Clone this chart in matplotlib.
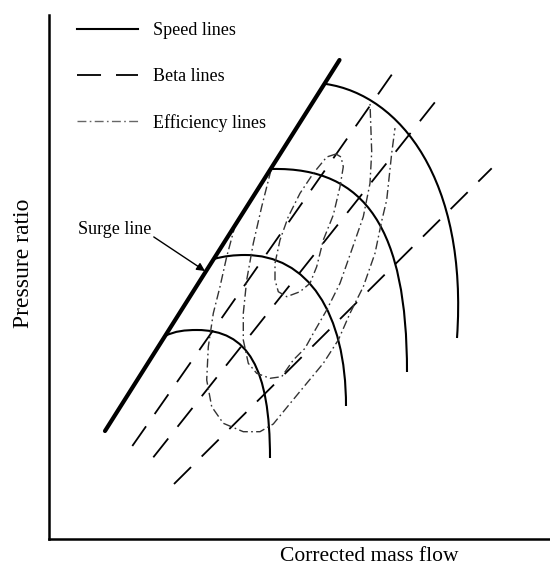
import matplotlib
matplotlib.use('Agg')
import matplotlib.pyplot as plt
from matplotlib.path import Path
from matplotlib.patches import PathPatch
from matplotlib.lines import Line2D

plt.rcParams['font.family'] = ['Liberation Serif', 'DejaVu Serif']

# schematic compressor map, everything in picture units (x right, y down)
surge_x = [105, 339.5]
surge_y = [431, 60]

# speed lines as cubic bezier control points (start on surge line)
speed_lines = [
    [(165, 336), (175, 331), (185, 330), (197, 330), (248, 330), (270, 368), (270, 458)],
    [(214, 259), (224, 256), (235, 255), (245, 255), (307.6, 255), (346, 312.4), (346, 406)],
    [(272, 169), (366, 167), (407, 230), (407, 372)],
    [(326, 84), (400, 95), (468, 180), (457, 338)],
]

# beta lines (bottom end -> top end)
beta_x0 = [132.3, 153.3, 174]
beta_y0 = [446, 457.3, 484]
beta_x1 = [395, 436.7, 491.7]
beta_y1 = [70, 100, 168.3]

# efficiency lines
eff_island_x = [336, 326.7, 313.3, 300, 288.3, 280, 275, 275, 278.3, 286.7, 300, 310,
                316.7, 323.3, 333.3, 340, 343.3, 341, 336]
eff_island_y = [154, 157, 173.3, 193.3, 216.7, 240, 263.3, 280, 291.7, 296.7, 291.7, 283.3,
                266.7, 240, 215, 186.7, 166.7, 157, 154]
eff_b_x = [271, 261.7, 253.3, 246.7, 243.3, 243.3, 248.3, 256.7, 270, 281.7, 293.3, 305,
           313.3, 326.7, 340, 351.7, 363.3, 370, 371.7, 370]
eff_b_y = [170, 206.7, 243.3, 280, 313.3, 340, 363.3, 373.3, 378.3, 376.7, 360, 348.3,
           333.3, 310, 283.3, 250, 216.7, 183.3, 151.7, 103]
eff_c_x = [235.5, 226.7, 220, 213.3, 208.3, 206.7, 211.7, 223.3, 243.3, 260, 273.3, 288,
           306.7, 323.3, 338.3, 350, 363.3, 375, 381.7, 386.7, 391.7, 395]
eff_c_y = [224, 256.7, 286.7, 313.3, 346.7, 380, 406.7, 423.3, 431.7, 431.7, 424, 406,
           383.3, 363.3, 340, 313.3, 286.7, 253.3, 221, 200, 153.3, 128]

W, H = 550, 569
x_left, y_top, y_bot = 49, 14.5, 538.5

fig = plt.figure(figsize=(5.5, 5.69), dpi=100)
ax = fig.add_axes([x_left / W, (H - y_bot) / H, (W - x_left) / W, (y_bot - y_top) / H])
ax.set_xlim(x_left, W)
ax.set_ylim(y_bot, y_top)
for s in ['top', 'right']:
    ax.spines[s].set_visible(False)
for s in ['left', 'bottom']:
    ax.spines[s].set_linewidth(1.8)
ax.set_xticks([])
ax.set_yticks([])

beta_ls = (0, (13.3, 8.3))
eff_ls = (0, (6.4, 2.4, 1.2, 2.4))
eff_col = '#333333'

for xa, ya, xb, yb in zip(beta_x0, beta_y0, beta_x1, beta_y1):
    ax.plot([xa, xb], [ya, yb], color='k', lw=1.3, ls=beta_ls)

for ex, ey in [(eff_island_x, eff_island_y), (eff_b_x, eff_b_y), (eff_c_x, eff_c_y)]:
    ax.plot(ex, ey, color=eff_col, lw=1.0, ls=eff_ls)

for verts in speed_lines:
    codes = [Path.MOVETO] + [Path.CURVE4] * (len(verts) - 1)
    ax.add_patch(PathPatch(Path(verts, codes), fill=False, lw=1.5, ec='k'))

ax.plot(surge_x, surge_y, color='k', lw=3, solid_capstyle='round')

ax.annotate('Surge line', xy=(205, 271), xytext=(151, 230), ha='right', va='center',
            fontsize=13,
            arrowprops=dict(arrowstyle='-|>', color='k', lw=1.0, mutation_scale=12,
                            shrinkA=0, shrinkB=0, relpos=(1.0, 0.2)))

handles = [Line2D([], [], color='k', lw=1.5),
           Line2D([], [], color='k', lw=1.3, ls=beta_ls),
           Line2D([], [], color='#666666', lw=1.0, ls=eff_ls)]
ax.legend(handles, ['Speed lines', 'Beta lines', 'Efficiency lines'],
          loc='upper left', bbox_to_anchor=(76.7 / W, 1 - 22 / H),
          bbox_transform=fig.transFigure, frameon=False, fontsize=13,
          borderpad=0, borderaxespad=0, handlelength=3.41, handletextpad=0.8,
          labelspacing=1.6)

ax.set_xlabel('Corrected mass flow', fontsize=15.5)
ax.xaxis.set_label_coords(0.639, -0.034)
ax.xaxis.label.set_va('center')
ax.set_ylabel('Pressure ratio', fontsize=17)
ax.yaxis.set_label_coords(-0.05, 0.526)
ax.yaxis.label.set_va('center')

fig.savefig('out.png', dpi=100)
